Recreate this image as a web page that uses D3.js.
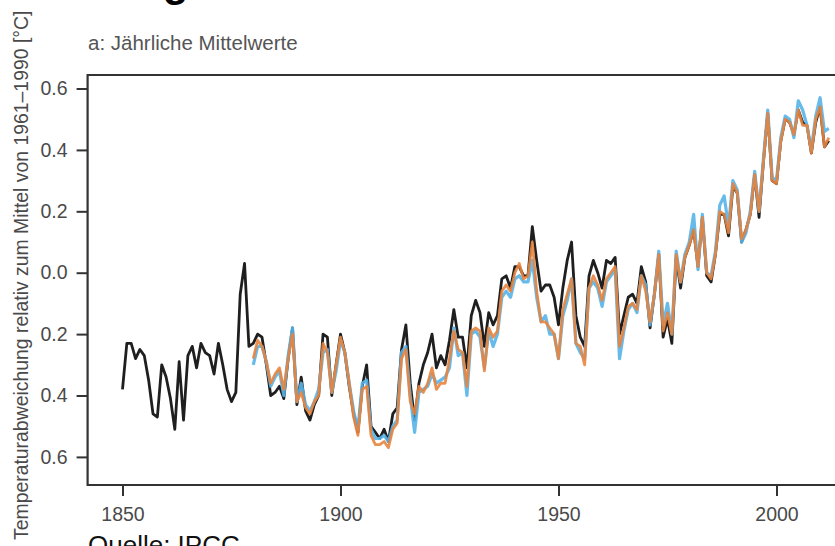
<!DOCTYPE html>
<html>
<head>
<meta charset="utf-8">
<script src="https://cdn.jsdelivr.net/npm/d3@7"></script>
<style>
  html, body { margin: 0; padding: 0; background: #fff; }
  svg { display: block; font-family: "Liberation Sans", Arial, Helvetica, sans-serif; }
</style>
</head>
<body>
<svg id="chart" width="835" height="546"></svg>
<script>
// ---- data -------------------------------------------------------------
const titleText = "Langzeittrend";
const subtitleText = "a: Jährliche Mittelwerte";
const yLabelText = "Temperaturabweichung relativ zum Mittel von 1961–1990 [°C]";
const sourceText = "Quelle: IPCC";

const xTicks = [1850, 1900, 1950, 2000];
const yTicks = [-0.6, -0.4, -0.2, 0.0, 0.2, 0.4, 0.6];

const blackStart = 1850;
const blackValues = [
 -0.38,-0.23,-0.23,-0.28,-0.25,-0.27,-0.35,-0.46,-0.47,-0.30, // 1850
 -0.34,-0.41,-0.51,-0.29,-0.48,-0.27,-0.24,-0.31,-0.23,-0.26, // 1860
 -0.27,-0.33,-0.23,-0.30,-0.38,-0.42,-0.39,-0.07, 0.03,-0.24, // 1870
 -0.23,-0.20,-0.21,-0.30,-0.40,-0.39,-0.37,-0.41,-0.28,-0.18, // 1880
 -0.43,-0.34,-0.45,-0.48,-0.43,-0.40,-0.20,-0.21,-0.40,-0.30, // 1890
 -0.20,-0.26,-0.37,-0.46,-0.52,-0.37,-0.30,-0.50,-0.52,-0.54, // 1900
 -0.51,-0.55,-0.46,-0.44,-0.25,-0.17,-0.36,-0.48,-0.36,-0.30, // 1910
 -0.26,-0.20,-0.31,-0.27,-0.30,-0.22,-0.12,-0.21,-0.21,-0.31, // 1920
 -0.14,-0.09,-0.13,-0.24,-0.13,-0.17,-0.14,-0.02,-0.01,-0.05, // 1930
  0.02, 0.02,-0.01,-0.01, 0.15, 0.04,-0.06,-0.04,-0.04,-0.08, // 1940
 -0.17,-0.05, 0.04, 0.10,-0.14,-0.21,-0.24,-0.01, 0.04, 0.00, // 1950
 -0.05, 0.04, 0.03, 0.05,-0.20,-0.14,-0.08,-0.07,-0.10, 0.02, // 1960
 -0.03,-0.18,-0.07, 0.06,-0.21,-0.15,-0.23, 0.05,-0.05, 0.05, // 1970
  0.09, 0.14, 0.02, 0.18,-0.01,-0.03, 0.06, 0.19, 0.19, 0.12, // 1980
  0.28, 0.26, 0.10, 0.14, 0.19, 0.32, 0.18, 0.36, 0.52, 0.30, // 1990
  0.29, 0.43, 0.50, 0.49, 0.45, 0.53, 0.49, 0.48, 0.39, 0.49, // 2000
  0.54, 0.41, 0.43                                             // 2010
];

const blueStart = 1880;
const blueValues = [
 -0.30,-0.24,-0.24,-0.29,-0.37,-0.34,-0.32,-0.40,-0.27,-0.18, // 1880
 -0.42,-0.36,-0.43,-0.45,-0.42,-0.38,-0.26,-0.25,-0.39,-0.32, // 1890
 -0.22,-0.26,-0.36,-0.45,-0.51,-0.36,-0.35,-0.51,-0.54,-0.54, // 1900
 -0.53,-0.55,-0.50,-0.48,-0.26,-0.24,-0.40,-0.52,-0.39,-0.38, // 1910
 -0.37,-0.33,-0.36,-0.35,-0.34,-0.31,-0.18,-0.27,-0.26,-0.40, // 1920
 -0.20,-0.19,-0.21,-0.31,-0.19,-0.24,-0.20,-0.08,-0.06,-0.08, // 1930
 -0.02,-0.01,-0.03,-0.03, 0.04,-0.08,-0.16,-0.14,-0.20,-0.20, // 1940
 -0.28,-0.14,-0.09,-0.02,-0.23,-0.26,-0.28,-0.05,-0.03,-0.05, // 1950
 -0.11,-0.03,-0.01, 0.01,-0.28,-0.19,-0.12,-0.10,-0.13,-0.01, // 1960
 -0.04,-0.17,-0.07, 0.07,-0.17,-0.10,-0.20, 0.07,-0.03, 0.06, // 1970
  0.10, 0.19, 0.01, 0.19, 0.00,-0.01, 0.07, 0.22, 0.25, 0.15, // 1980
  0.30, 0.27, 0.10, 0.13, 0.20, 0.33, 0.20, 0.37, 0.53, 0.31, // 1990
  0.30, 0.44, 0.51, 0.50, 0.44, 0.56, 0.53, 0.48, 0.40, 0.51, // 2000
  0.57, 0.46, 0.47                                             // 2010
];

const orangeStart = 1880;
const orangeValues = [
 -0.28,-0.22,-0.24,-0.29,-0.36,-0.33,-0.31,-0.38,-0.28,-0.20, // 1880
 -0.42,-0.39,-0.44,-0.46,-0.42,-0.40,-0.23,-0.26,-0.39,-0.30, // 1890
 -0.21,-0.26,-0.36,-0.47,-0.53,-0.38,-0.37,-0.53,-0.56,-0.56, // 1900
 -0.55,-0.57,-0.51,-0.49,-0.28,-0.25,-0.42,-0.46,-0.37,-0.39, // 1910
 -0.36,-0.31,-0.38,-0.36,-0.36,-0.28,-0.19,-0.25,-0.26,-0.37, // 1920
 -0.19,-0.18,-0.19,-0.32,-0.18,-0.21,-0.19,-0.06,-0.04,-0.06, // 1930
  0.00, 0.03,-0.02,-0.01, 0.10,-0.06,-0.16,-0.16,-0.18,-0.20, // 1940
 -0.28,-0.12,-0.07,-0.02,-0.23,-0.24,-0.30,-0.05,-0.01,-0.04, // 1950
 -0.09,-0.02, 0.00, 0.02,-0.24,-0.18,-0.11,-0.10,-0.12,-0.01, // 1960
 -0.06,-0.16,-0.07, 0.06,-0.19,-0.13,-0.20, 0.06,-0.03, 0.05, // 1970
  0.09, 0.14, 0.02, 0.18, 0.00,-0.02, 0.06, 0.20, 0.19, 0.13, // 1980
  0.29, 0.26, 0.11, 0.14, 0.19, 0.32, 0.20, 0.36, 0.52, 0.30, // 1990
  0.29, 0.43, 0.50, 0.49, 0.45, 0.53, 0.48, 0.48, 0.39, 0.50, // 2000
  0.54, 0.41, 0.44                                             // 2010
];

// ---- drawing ----------------------------------------------------------
const svg = d3.select("#chart");
const mLeft = 87.6, mRight = 850.6, mTop = 75, mBottom = 485;

const x = d3.scaleLinear().domain([1842, 2017]).range([mLeft, mRight]);
const y = d3.scaleLinear().domain([-0.6915, 0.644]).range([mBottom, mTop]);

const toPoints = (start, vals) => vals.map((v, i) => ({ year: start + i, v }));
const line = d3.line().x(d => x(d.year)).y(d => y(d.v));

const plot = svg.append("g");

plot.append("path").datum(toPoints(blackStart, blackValues))
  .attr("d", line).attr("fill", "none")
  .attr("stroke", "#1f1f1f").attr("stroke-width", 2.8)
  .attr("stroke-linejoin", "round");

plot.append("path").datum(toPoints(blueStart, blueValues))
  .attr("d", line).attr("fill", "none")
  .attr("stroke", "#56B4E9").attr("stroke-opacity", 0.9).attr("stroke-width", 3.2)
  .attr("stroke-linejoin", "round");

plot.append("path").datum(toPoints(orangeStart, orangeValues))
  .attr("d", line).attr("fill", "none")
  .attr("stroke", "#E8843E").attr("stroke-opacity", 0.9).attr("stroke-width", 2.8)
  .attr("stroke-linejoin", "round");

// frame
svg.append("path")
  .attr("d", `M${mRight},${mTop}H${mLeft}V${mBottom}H${mRight}`)
  .attr("fill", "none").attr("stroke", "#333").attr("stroke-width", 2.2);

// axes
const yAxis = d3.axisLeft(y).tickValues(yTicks).tickSize(11).tickPadding(9)
  .tickFormat(d => Math.abs(d).toFixed(1));
const gy = svg.append("g").attr("transform", `translate(${mLeft},0)`).call(yAxis);

const xAxis = d3.axisBottom(x).tickValues(xTicks).tickSize(11).tickPadding(11)
  .tickFormat(d3.format("d"));
const gx = svg.append("g").attr("transform", `translate(0,${mBottom})`).call(xAxis);

[gx, gy].forEach(g => {
  g.select(".domain").remove();
  g.selectAll(".tick line").attr("stroke", "#333").attr("stroke-width", 2);
  g.selectAll(".tick text").attr("fill", "#4a4a4a")
    .style("font-size", "19.5px");
});

// texts
svg.append("text").attr("x", 88).attr("y", -4.5)
  .style("font-size", "42px").style("font-weight", "bold").attr("fill", "#000")
  .text(titleText);

svg.append("text").attr("x", 88).attr("y", 50)
  .style("font-size", "20.5px").attr("fill", "#555")
  .text(subtitleText);

svg.append("text")
  .attr("transform", "translate(28,540) rotate(-90)")
  .style("font-size", "19.4px").attr("fill", "#4a4a4a")
  .text(yLabelText);

svg.append("text").attr("x", 88).attr("y", 554)
  .style("font-size", "26px").attr("fill", "#111")
  .text(sourceText);
</script>
</body>
</html>
